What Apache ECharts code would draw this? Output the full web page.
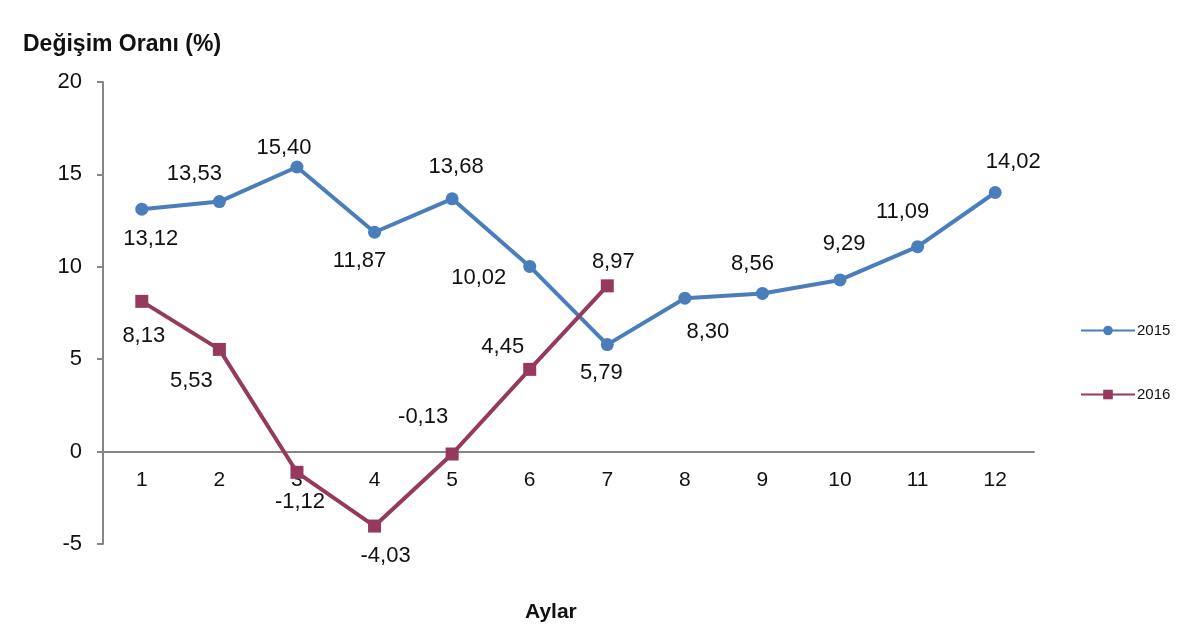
<!DOCTYPE html>
<html>
<head>
<meta charset="utf-8">
<script src="https://cdn.jsdelivr.net/npm/echarts@6/dist/echarts.min.js"></script>
<style>
  html, body { margin: 0; padding: 0; background: #fff; }
  #chart { width: 1200px; height: 644px; }
</style>
</head>
<body>
<div id="chart"></div>
<script>
// data
const months = ["1", "2", "3", "4", "5", "6", "7", "8", "9", "10", "11", "12"];
const values2015 = [13.12, 13.53, 15.40, 11.87, 13.68, 10.02, 5.79, 8.30, 8.56, 9.29, 11.09, 14.02];
const values2016 = [8.13, 5.53, -1.12, -4.03, -0.13, 4.45, 8.97];
const yTicks = [-5, 0, 5, 10, 15, 20];

// label placement (pixel offsets from each point)
const offsets2015 = [[9, 30], [-25, -28], [-13, -19], [-15, 29], [4, -32], [-51, 12], [-6, 28], [23, 34], [-10, -29], [4, -36], [-15, -35], [18, -31]];
const offsets2016 = [[2, 35], [-28, 32], [3, 30], [11, 30], [-29, -37], [-27, -22], [6, -24]];

const blue = "#4A7EBB";
const wine = "#953A5E";
const font = "'Liberation Sans', Arial, sans-serif";

function fmt(v) { return v.toFixed(2).replace(".", ","); }

function withLabels(vals, offs) {
    return vals.map((v, i) => ({
        value: v,
        label: { offset: offs[i] }
    }));
}

function lineSeries(name, vals, offs, color, symbol, size) {
    return {
        name: name,
        type: "line",
        data: withLabels(vals, offs),
        symbol: symbol,
        symbolSize: size,
        lineStyle: { color: color, width: 4 },
        itemStyle: { color: color },
        label: {
            show: true,
            position: "inside",
            color: "#111",
            fontFamily: font,
            fontSize: 22,
            formatter: p => fmt(p.value)
        },
        emphasis: { disabled: true },
        animation: false
    };
}

const chart = echarts.init(document.getElementById("chart"), null, { renderer: "canvas" });
chart.setOption({
    backgroundColor: "#fff",
    textStyle: { fontFamily: font },
    title: [
        { text: "Değişim Oranı (%)", left: 18, top: 28, textStyle: { fontFamily: font, fontSize: 23, fontWeight: "bold", color: "#111" } },
        { text: "Aylar", left: 520, top: 597, textStyle: { fontFamily: font, fontSize: 21, fontWeight: "bold", color: "#111" } }
    ],
    legend: {
        orient: "vertical",
        left: 1075,
        top: 318,
        itemGap: 49,
        itemWidth: 54,
        itemHeight: 12,
        textStyle: { fontFamily: font, fontSize: 15, color: "#111", padding: [0, 0, 0, -3] },
        data: ["2015", "2016"]
    },
    grid: { left: 103, right: 166, top: 82, bottom: 100, containLabel: false },
    xAxis: {
        type: "category",
        data: months,
        boundaryGap: true,
        axisLine: { onZero: false, lineStyle: { color: "#868686", width: 2 } },
        axisTick: { show: false },
        axisLabel: { color: "#111", fontFamily: font, fontSize: 21, margin: 18 }
    },
    yAxis: {
        type: "value",
        min: yTicks[0],
        max: yTicks[yTicks.length - 1],
        interval: 5,
        axisLine: { show: true, lineStyle: { color: "#868686", width: 2 } },
        axisTick: { show: true, length: 6, lineStyle: { color: "#868686", width: 2 } },
        splitLine: { show: false },
        axisLabel: { color: "#111", fontFamily: font, fontSize: 22, margin: 21 }
    },
    series: [
        lineSeries("2015", values2015, offsets2015, blue, "circle", 13),
        lineSeries("2016", values2016, offsets2016, wine, "rect", 13)
    ]
});

// move the category axis up to the zero line, labels included
const zeroY = chart.convertToPixel({ yAxisIndex: 0 }, 0);
const bottomY = chart.convertToPixel({ yAxisIndex: 0 }, yTicks[0]);
chart.setOption({ xAxis: { offset: -(bottomY - zeroY) } });

window.addEventListener("resize", () => chart.resize());
</script>
</body>
</html>
